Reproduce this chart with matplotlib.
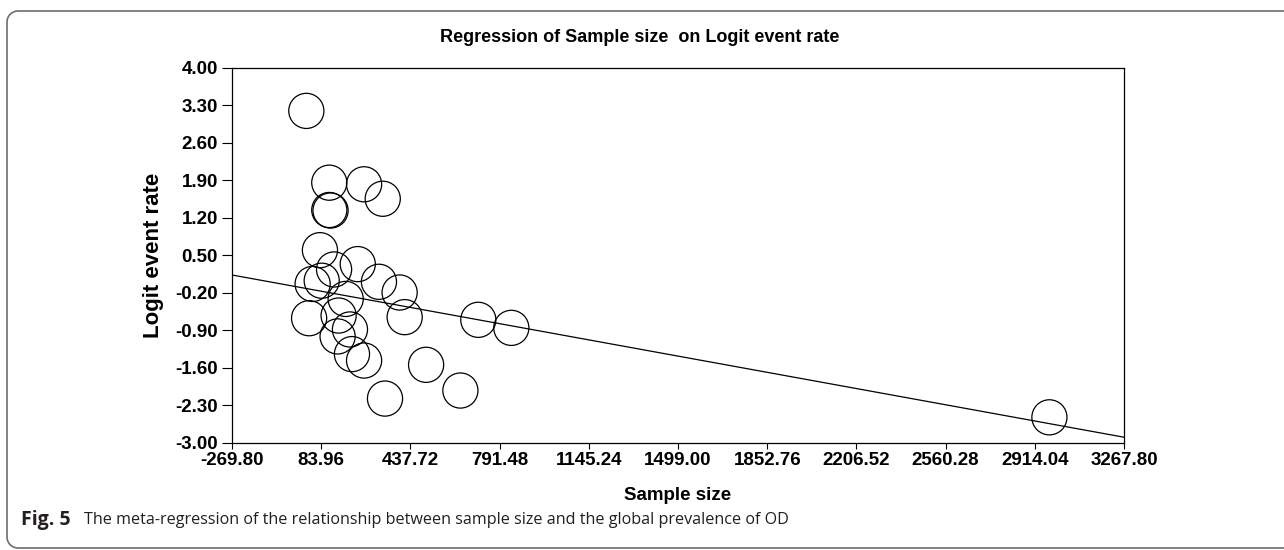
import numpy as np
import matplotlib.pyplot as plt
from matplotlib.lines import Line2D
from matplotlib.transforms import IdentityTransform

# Study-level points
sample_size = [25, 116, 254, 328, 116, 121, 79, 135, 229, 313, 395,
               50, 86, 181, 36, 153, 198, 149, 206, 254, 415, 500,
               337, 636, 707, 838, 2972]
logit_rate = [3.19, 1.85, 1.82, 1.55, 1.34, 1.33, 0.59, 0.23, 0.33, 0.00, -0.20,
              -0.04, 0.02, -0.32, -0.68, -0.63, -0.89, -1.02, -1.35, -1.47, -0.66, -1.55,
              -2.18, -2.03, -0.71, -0.86, -2.53]

# Fitted regression line
intercept = -0.104
slope = -0.000856

x_ticks = [-269.80, 83.96, 437.72, 791.48, 1145.24, 1499.00, 1852.76,
           2206.52, 2560.28, 2914.04, 3267.80]
y_ticks = [4.00, 3.30, 2.60, 1.90, 1.20, 0.50, -0.20, -0.90, -1.60, -2.30, -3.00]

plt.rcParams['font.family'] = ['Liberation Sans', 'DejaVu Sans']

fig = plt.figure(figsize=(12.84, 5.5), dpi=100)
W, H = 1284, 550

# Rounded frame, open on the right (pixel coordinates, origin bottom left)
r = 11
t1 = np.linspace(np.pi / 2, np.pi, 12)     # top-left corner
t2 = np.linspace(np.pi, 1.5 * np.pi, 12)   # bottom-left corner
fx = np.concatenate([[W + 5], 7 + r + r * np.cos(t1), 7 + r + r * np.cos(t2), [W + 5]])
fy = np.concatenate([[539], 539 - r + r * np.sin(t1), 2 + r + r * np.sin(t2), [2]])
fig.lines.append(Line2D(fx, fy, transform=IdentityTransform(),
                        color='#6d6d6d', linewidth=1.2))

ax = fig.add_axes([232 / W, 1 - 442.5 / H, 892 / W, 375 / H])
ax.scatter(sample_size, logit_rate, s=640, facecolors='none',
           edgecolors='black', linewidths=0.9, zorder=3)

xs = np.array([x_ticks[0], x_ticks[-1]])
ax.plot(xs, intercept + slope * xs, color='black', linewidth=0.9, zorder=2)

ax.set_xlim(x_ticks[0], x_ticks[-1])
ax.set_ylim(y_ticks[-1], y_ticks[0])
ax.set_xticks(x_ticks)
ax.set_yticks(y_ticks)
ax.set_xticklabels(['%.2f' % v for v in x_ticks], fontsize=13.5, fontweight='bold')
ax.set_yticklabels(['%.2f' % v for v in y_ticks], fontsize=13.5, fontweight='bold')
ax.tick_params(axis='y', direction='out', length=7, width=0.8, pad=3)
ax.tick_params(axis='x', direction='out', length=4, width=0.8, pad=3)
for sp in ax.spines.values():
    sp.set_linewidth(0.9)

ax.set_xlabel('Sample size', fontsize=13.5, fontweight='bold', labelpad=13)
ax.set_ylabel('Logit event rate', fontsize=16, fontweight='bold', labelpad=8)

fig.text(640 / W, 1 - 37 / H, 'Regression of Sample size  on Logit event rate',
         ha='center', va='center', fontsize=13, fontweight='bold')

# Caption
fig.text(21 / W, 1 - 520 / H, 'Fig. 5', ha='left', va='center', fontsize=14,
         fontweight='bold', family='Open Sans', color='#231f20')
fig.text(84 / W, 1 - 520 / H,
         'The meta-regression of the relationship between sample size and the global prevalence of OD',
         ha='left', va='center', fontsize=11.6, family='Open Sans', color='#231f20')

fig.savefig('out.png', dpi=100)
